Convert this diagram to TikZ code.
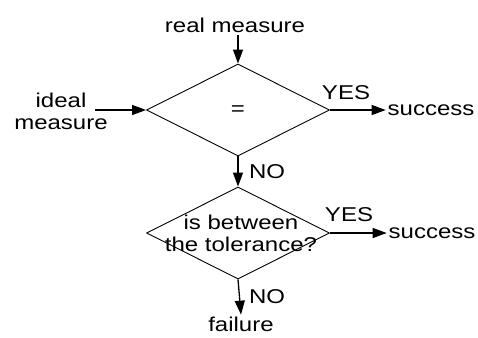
\documentclass[tikz,border=0pt]{standalone}
\usepackage{fontspec}
\setmainfont[FakeStretch=1.2]{Liberation Sans}
\usetikzlibrary{shapes.geometric,arrows.meta}

\begin{document}
\begin{tikzpicture}[x=1pt,y=-1pt,line join=round,
  decision/.style={diamond,draw,line width=0.9pt,minimum width=183pt,minimum height=92pt,inner sep=0pt},
  txt/.style={font=\fontsize{20}{22}\selectfont,inner sep=0pt,outer sep=2pt,align=center},
  flow/.style={line width=1.3pt,-{Triangle[length=14pt,width=10pt]}}]
\useasboundingbox (0,0) rectangle (478,337);
\node[decision] (eq) at (238,110) {};
\node[decision] (tol) at (238,233) {};
\node[txt] (eqsign) at (238,111) {=};
\node[txt] (tolq) at (241,233) {is between\\the tolerance?};
\node[txt] (real) at (235,25) {real measure};
\node[txt] (ideal) at (61,111) {ideal\\measure};
\node[txt] (succ1) at (431,110) {success};
\node[txt] (succ2) at (432,233) {success};
\node[txt] (fail) at (241,324) {failure};
\node[txt] (yes1) at (346,93) {YES};
\node[txt] (yes2) at (349,215) {YES};
\node[txt] (no1) at (267,172) {NO};
\node[txt] (no2) at (267,297) {NO};
\coordinate (realout) at (238,35);
\coordinate (idealout) at (95,110);
\draw[flow] (realout) -- (eq.north);
\draw[flow] (idealout) -- (eq.west);
\draw[flow] (eq.east) -- (succ1.west);
\draw[flow] (eq.south) -- (tol.north);
\draw[flow] (tol.east) -- (succ2.west);
\draw[flow] (tol.south) -- (fail.north);
\end{tikzpicture}
\end{document}
